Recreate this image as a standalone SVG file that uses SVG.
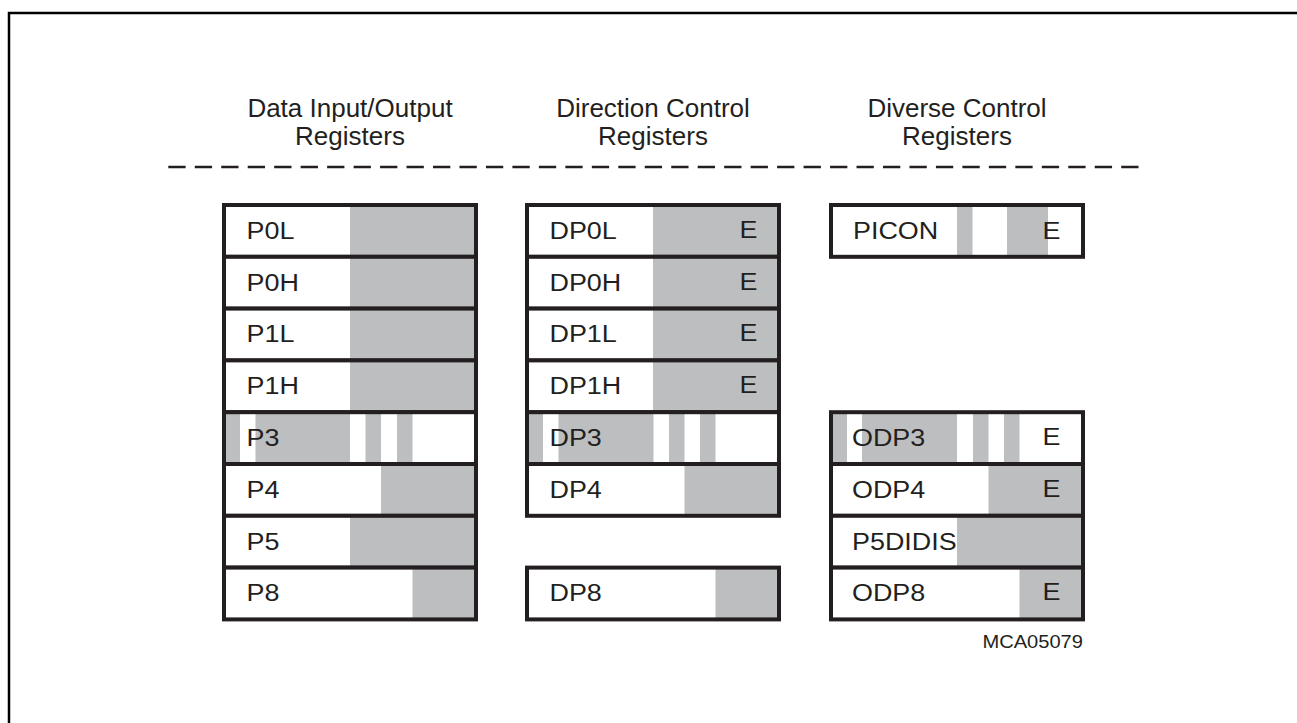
<svg xmlns="http://www.w3.org/2000/svg" width="1297" height="723" viewBox="0 0 1297 723">
<style>
.frame{fill:none;stroke:#000;stroke-width:2.5}
.dash{fill:none;stroke:#231f20;stroke-width:2.5;stroke-dasharray:17.3 9.17}
.hdr{font-family:"Liberation Sans",Arial,sans-serif;font-size:26px;fill:#231f20;text-anchor:middle}
.lbl{font-family:"Liberation Sans",Arial,sans-serif;font-size:23px;fill:#231f20}
.id{font-family:"Liberation Sans",Arial,sans-serif;font-size:17.5px;fill:#231f20;text-anchor:end}
.bg{fill:#fff}
.g{fill:#bcbec0}
.box{fill:none;stroke:#231f20;stroke-width:4}
</style>
<rect class="frame" x="9" y="13" width="1300" height="720"/>
<g id="headers">
<text class="hdr" x="350" y="117">Data Input/Output</text>
<text class="hdr" x="350" y="145">Registers</text>
<text class="hdr" x="653" y="117">Direction Control</text>
<text class="hdr" x="653" y="145">Registers</text>
<text class="hdr" x="957" y="117">Diverse Control</text>
<text class="hdr" x="957" y="145">Registers</text>
</g>
<g id="connectors">
<line class="dash" x1="168.3" y1="167" x2="1138.6" y2="167"/>
</g>
<!-- Left column: x 224..476, interior 226..474 -->
<g id="P0L">
<rect class="bg" x="224" y="205" width="252" height="51.8"/>
<rect class="g" x="350" y="205" width="126" height="51.8"/>
<rect class="box" x="224" y="205" width="252" height="51.8"/>
<text class="lbl" transform="translate(246.5,238.8) scale(1.17,1)">P0L</text>
</g>
<g id="P0H">
<rect class="bg" x="224" y="256.8" width="252" height="51.8"/>
<rect class="g" x="350" y="256.8" width="126" height="51.8"/>
<rect class="box" x="224" y="256.8" width="252" height="51.8"/>
<text class="lbl" transform="translate(246.5,290.6) scale(1.17,1)">P0H</text>
</g>
<g id="P1L">
<rect class="bg" x="224" y="308.6" width="252" height="51.8"/>
<rect class="g" x="350" y="308.6" width="126" height="51.8"/>
<rect class="box" x="224" y="308.6" width="252" height="51.8"/>
<text class="lbl" transform="translate(246.5,342.4) scale(1.17,1)">P1L</text>
</g>
<g id="P1H">
<rect class="bg" x="224" y="360.4" width="252" height="51.8"/>
<rect class="g" x="350" y="360.4" width="126" height="51.8"/>
<rect class="box" x="224" y="360.4" width="252" height="51.8"/>
<text class="lbl" transform="translate(246.5,394.2) scale(1.17,1)">P1H</text>
</g>
<g id="P3">
<rect class="bg" x="224" y="412.2" width="252" height="51.8"/>
<rect class="g" x="224" y="412.2" width="16" height="51.8"/>
<rect class="g" x="255.5" y="412.2" width="94.5" height="51.8"/>
<rect class="g" x="365.5" y="412.2" width="15.5" height="51.8"/>
<rect class="g" x="397" y="412.2" width="15.5" height="51.8"/>
<rect class="box" x="224" y="412.2" width="252" height="51.8"/>
<text class="lbl" transform="translate(246.5,446) scale(1.17,1)">P3</text>
</g>
<g id="P4">
<rect class="bg" x="224" y="464" width="252" height="51.8"/>
<rect class="g" x="381" y="464" width="95" height="51.8"/>
<rect class="box" x="224" y="464" width="252" height="51.8"/>
<text class="lbl" transform="translate(246.5,497.8) scale(1.17,1)">P4</text>
</g>
<g id="P5">
<rect class="bg" x="224" y="515.8" width="252" height="51.8"/>
<rect class="g" x="350" y="515.8" width="126" height="51.8"/>
<rect class="box" x="224" y="515.8" width="252" height="51.8"/>
<text class="lbl" transform="translate(246.5,549.6) scale(1.17,1)">P5</text>
</g>
<g id="P8">
<rect class="bg" x="224" y="567.6" width="252" height="51.8"/>
<rect class="g" x="412.5" y="567.6" width="63.5" height="51.8"/>
<rect class="box" x="224" y="567.6" width="252" height="51.8"/>
<text class="lbl" transform="translate(246.5,601.4) scale(1.17,1)">P8</text>
</g>
<!-- Middle column: x 527..779, interior 529..777 -->
<g id="DP0L">
<rect class="bg" x="527" y="205" width="252" height="51.8"/>
<rect class="g" x="653" y="205" width="126" height="51.8"/>
<rect class="box" x="527" y="205" width="252" height="51.8"/>
<text class="lbl" transform="translate(549.5,238.8) scale(1.17,1)">DP0L</text>
<text class="lbl" transform="translate(739.5,237.8) scale(1.17,1)">E</text>
</g>
<g id="DP0H">
<rect class="bg" x="527" y="256.8" width="252" height="51.8"/>
<rect class="g" x="653" y="256.8" width="126" height="51.8"/>
<rect class="box" x="527" y="256.8" width="252" height="51.8"/>
<text class="lbl" transform="translate(549.5,290.6) scale(1.17,1)">DP0H</text>
<text class="lbl" transform="translate(739.5,289.6) scale(1.17,1)">E</text>
</g>
<g id="DP1L">
<rect class="bg" x="527" y="308.6" width="252" height="51.8"/>
<rect class="g" x="653" y="308.6" width="126" height="51.8"/>
<rect class="box" x="527" y="308.6" width="252" height="51.8"/>
<text class="lbl" transform="translate(549.5,342.4) scale(1.17,1)">DP1L</text>
<text class="lbl" transform="translate(739.5,341.4) scale(1.17,1)">E</text>
</g>
<g id="DP1H">
<rect class="bg" x="527" y="360.4" width="252" height="51.8"/>
<rect class="g" x="653" y="360.4" width="126" height="51.8"/>
<rect class="box" x="527" y="360.4" width="252" height="51.8"/>
<text class="lbl" transform="translate(549.5,394.2) scale(1.17,1)">DP1H</text>
<text class="lbl" transform="translate(739.5,393.2) scale(1.17,1)">E</text>
</g>
<g id="DP3">
<rect class="bg" x="527" y="412.2" width="252" height="51.8"/>
<rect class="g" x="527" y="412.2" width="16" height="51.8"/>
<rect class="g" x="558.5" y="412.2" width="95" height="51.8"/>
<rect class="g" x="669" y="412.2" width="15.5" height="51.8"/>
<rect class="g" x="700" y="412.2" width="15.5" height="51.8"/>
<rect class="box" x="527" y="412.2" width="252" height="51.8"/>
<text class="lbl" transform="translate(549.5,446) scale(1.17,1)">DP3</text>
</g>
<g id="DP4">
<rect class="bg" x="527" y="464" width="252" height="51.8"/>
<rect class="g" x="684.5" y="464" width="94.5" height="51.8"/>
<rect class="box" x="527" y="464" width="252" height="51.8"/>
<text class="lbl" transform="translate(549.5,497.8) scale(1.17,1)">DP4</text>
</g>
<g id="DP8">
<rect class="bg" x="527" y="567.6" width="252" height="51.8"/>
<rect class="g" x="715.5" y="567.6" width="63.5" height="51.8"/>
<rect class="box" x="527" y="567.6" width="252" height="51.8"/>
<text class="lbl" transform="translate(549.5,601.4) scale(1.17,1)">DP8</text>
</g>
<!-- Right column: x 831..1083, interior 833..1081 -->
<g id="PICON">
<rect class="bg" x="831" y="205" width="252" height="51.8"/>
<rect class="g" x="957" y="205" width="15.5" height="51.8"/>
<rect class="g" x="1007" y="205" width="41" height="51.8"/>
<rect class="box" x="831" y="205" width="252" height="51.8"/>
<text class="lbl" transform="translate(853,238.8) scale(1.17,1)">PICON</text>
<text class="lbl" transform="translate(1042.5,238.8) scale(1.17,1)">E</text>
</g>
<g id="ODP3">
<rect class="bg" x="831" y="412.2" width="252" height="51.8"/>
<rect class="g" x="831" y="412.2" width="16" height="51.8"/>
<rect class="g" x="862" y="412.2" width="95" height="51.8"/>
<rect class="g" x="973" y="412.2" width="15.5" height="51.8"/>
<rect class="g" x="1004" y="412.2" width="15.5" height="51.8"/>
<rect class="box" x="831" y="412.2" width="252" height="51.8"/>
<text class="lbl" transform="translate(852,446) scale(1.17,1)">ODP3</text>
<text class="lbl" transform="translate(1042.5,445) scale(1.17,1)">E</text>
</g>
<g id="ODP4">
<rect class="bg" x="831" y="464" width="252" height="51.8"/>
<rect class="g" x="988.5" y="464" width="94.5" height="51.8"/>
<rect class="box" x="831" y="464" width="252" height="51.8"/>
<text class="lbl" transform="translate(852,497.8) scale(1.17,1)">ODP4</text>
<text class="lbl" transform="translate(1042.5,496.8) scale(1.17,1)">E</text>
</g>
<g id="P5DIDIS">
<rect class="bg" x="831" y="515.8" width="252" height="51.8"/>
<rect class="g" x="957" y="515.8" width="126" height="51.8"/>
<rect class="box" x="831" y="515.8" width="252" height="51.8"/>
<text class="lbl" transform="translate(852,549.6) scale(1.17,1)">P5DIDIS</text>
</g>
<g id="ODP8">
<rect class="bg" x="831" y="567.6" width="252" height="51.8"/>
<rect class="g" x="1019.5" y="567.6" width="63.5" height="51.8"/>
<rect class="box" x="831" y="567.6" width="252" height="51.8"/>
<text class="lbl" transform="translate(852,601.4) scale(1.17,1)">ODP8</text>
<text class="lbl" transform="translate(1042.5,600.4) scale(1.17,1)">E</text>
</g>
<g id="figid">
<text class="id" transform="translate(1083,648) scale(1.15,1)">MCA05079</text>
</g>
</svg>
